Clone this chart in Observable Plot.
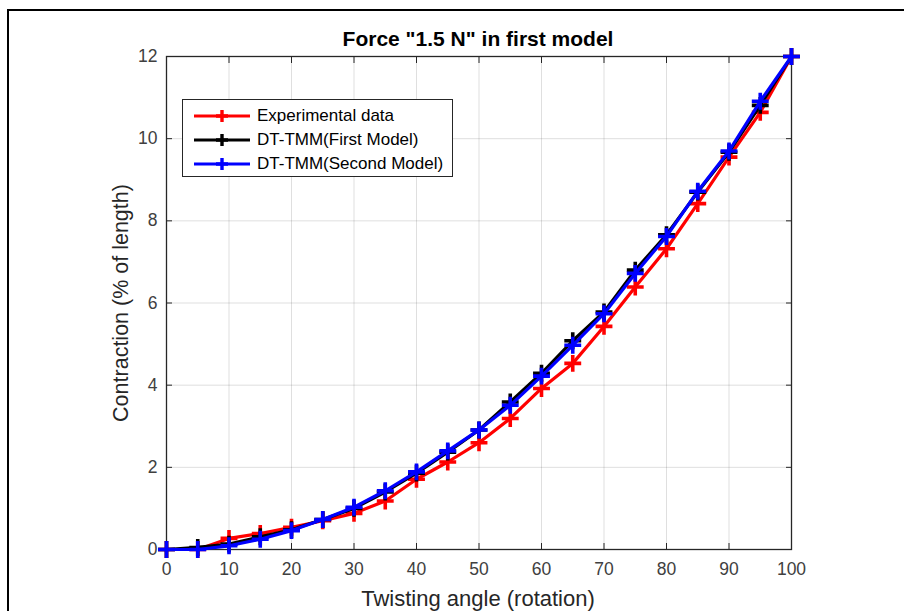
<!DOCTYPE html>
<html>
<head>
<meta charset="utf-8">
<script src="https://cdn.jsdelivr.net/npm/d3@7"></script>
<script src="https://cdn.jsdelivr.net/npm/@observablehq/plot@0.6"></script>
<style>
  html, body { margin: 0; padding: 0; background: #fff; }
  #wrap { position: relative; width: 904px; height: 611px; overflow: hidden; font-family: "Liberation Sans", Arial, Helvetica, sans-serif; }
  #frameBorder { position: absolute; left: 7px; top: 9px; width: 920px; height: 700px; border-left: 2.5px solid #000; border-top: 2.5px solid #000; box-sizing: border-box; }
  #chart { position: absolute; left: 0; top: 0; }
  .lbl { position: absolute; color: #262626; white-space: nowrap; }
  #title { left: 278px; width: 400px; top: 26px; text-align: center; font-weight: bold; font-size: 21px; line-height: 26px; color: #000; }
  #xlabel { left: 278px; width: 400px; top: 586px; text-align: center; font-size: 22px; line-height: 26px; }
  #ylabel { left: 121px; top: 303px; transform: translate(-50%, -50%) rotate(-90deg); font-size: 21.5px; line-height: 26px; }
  #legend { position: absolute; left: 182px; top: 99px; width: 271px; height: 78px; box-sizing: border-box; border: 1.3px solid #262626; background: #fff; padding-top: 4px; }
  .row { display: flex; align-items: center; height: 24px; font-size: 17px; color: #000; }
  .row svg { margin-left: 10px; margin-right: 6px; }
</style>
</head>
<body>
<div id="wrap">
  <div id="frameBorder"></div>
  <div id="chart"></div>
  <div id="title" class="lbl">Force "1.5 N" in first model</div>
  <div id="xlabel" class="lbl">Twisting angle (rotation)</div>
  <div id="ylabel" class="lbl">Contraction (% of length)</div>
  <div id="legend"></div>
</div>
<script>
// ---- data ----
const angles = [0, 5, 10, 15, 20, 25, 30, 35, 40, 45, 50, 55, 60, 65, 70, 75, 80, 85, 90, 95, 100];
const experimental = [0, 0, 0.27, 0.39, 0.54, 0.70, 0.88, 1.18, 1.71, 2.13, 2.60, 3.19, 3.92, 4.53, 5.43, 6.39, 7.32, 8.42, 9.55, 10.64, 12];
const firstModel   = [0, 0.05, 0.13, 0.31, 0.48, 0.73, 1.00, 1.40, 1.86, 2.37, 2.91, 3.59, 4.29, 5.08, 5.78, 6.80, 7.66, 8.70, 9.67, 10.81, 12];
const secondModel  = [0, 0, 0.09, 0.25, 0.46, 0.73, 1.03, 1.43, 1.89, 2.40, 2.91, 3.51, 4.22, 4.97, 5.74, 6.72, 7.62, 8.72, 9.70, 10.91, 12];
const seriesNames = ["Experimental data", "DT-TMM(First Model)", "DT-TMM(Second Model)"];
const seriesColors = ["#ff0000", "#000000", "#0000ff"];
const xTicks = [0, 10, 20, 30, 40, 50, 60, 70, 80, 90, 100];
const yTicks = [0, 2, 4, 6, 8, 10, 12];

const seriesValues = [experimental, firstModel, secondModel];
const series = seriesNames.map((name, i) => ({
  name, color: seriesColors[i],
  rows: angles.map((a, j) => ({angle: a, value: seriesValues[i][j]}))
}));

const marks = [
  Plot.gridX(xTicks, {stroke: "#262626", strokeOpacity: 0.15}),
  Plot.gridY(yTicks, {stroke: "#262626", strokeOpacity: 0.15}),
  Plot.axisX(xTicks, {tickSize: 0, tickPadding: 13, fontSize: 17.5, fill: "#404040"}),
  Plot.axisY(yTicks, {tickSize: 0, tickPadding: 9, fontSize: 17.5, fill: "#404040"}),
  Plot.axisX(xTicks, {tickSize: -6, tickFormat: () => "", stroke: "#262626"}),
  Plot.axisX(xTicks, {anchor: "top", tickSize: -6, tickFormat: () => "", stroke: "#262626"}),
  Plot.axisY(yTicks, {tickSize: -6, tickFormat: () => "", stroke: "#262626"}),
  Plot.axisY(yTicks, {anchor: "right", tickSize: -6, tickFormat: () => "", stroke: "#262626"}),
  Plot.frame({stroke: "#262626", strokeWidth: 1.3})
];
for (const s of series) {
  marks.push(Plot.line(s.rows, {x: "angle", y: "value", stroke: s.color, strokeWidth: 3.2}));
  marks.push(Plot.dot(s.rows, {x: "angle", y: "value", symbol: "plus", r: 5.5, stroke: s.color, strokeWidth: 3.6}));
}

const chart = Plot.plot({
  width: 904, height: 611,
  marginLeft: 166, marginRight: 113, marginTop: 56, marginBottom: 62,
  style: {fontFamily: "'Liberation Sans', Arial, Helvetica, sans-serif", fontSize: "18px", background: "transparent", overflow: "visible"},
  x: {domain: [0, 100], label: null},
  y: {domain: [0, 12], label: null},
  marks
});
document.getElementById("chart").appendChild(chart);

// legend
const leg = d3.select("#legend");
series.forEach(s => {
  const row = leg.append("div").attr("class", "row");
  const svg = row.append("svg").attr("width", 58).attr("height", 16);
  svg.append("line").attr("x1", 1).attr("x2", 57).attr("y1", 8).attr("y2", 8)
     .attr("stroke", s.color).attr("stroke-width", 3);
  svg.append("path").attr("d", "M29,2V14M23,8H35").attr("stroke", s.color).attr("stroke-width", 3.4);
  row.append("span").text(s.name);
});
</script>
</body>
</html>
